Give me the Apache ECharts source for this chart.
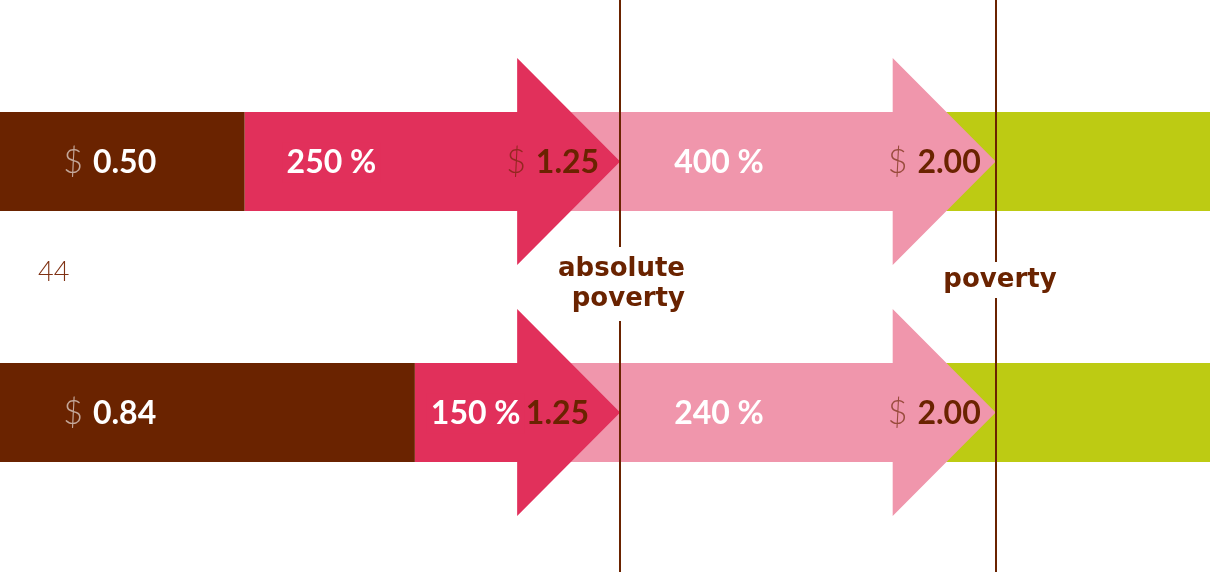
<!DOCTYPE html>
<html><head><meta charset="utf-8">
<script src="https://cdn.jsdelivr.net/npm/echarts@6/dist/echarts.min.js"></script>
<style>html,body{margin:0;padding:0;background:#fff}#c{width:1210px;height:572px}</style>
</head><body><div id="c"></div>
<script>
// ---- data ----
const rows = ['row 1', 'row 2'];
const startIncome = [0.50, 0.84];
const absolutePovertyLine = 1.25;
const povertyLine = 2.00;
const pctToAbsolute = [250, 150];
const pctToPoverty = [400, 240];
const thresholdValues = [1.25, 2.00];
const thresholdNames = ['absolute\npoverty', 'poverty'];
const xMin = 0.0115;
const xMax = 2.428;
const strayLabel = '44';

// ---- layout / style ----
const C = {brown:'#6a2300', crimson:'#e1305b', pink:'#f096ac', green:'#bdcb13', line:'#6a2300'};
const BAR_HALF = 49.5, HEAD_HALF = 103.5, HEAD_LEN = 103;
const NUM = "Lato, 'Open Sans', sans-serif";
const ANN = "'DejaVu Sans', sans-serif";
const startLabelDx = 69;
const pctAbsDx = [38, 12];
const absValueGap = [21, 31];
const povValueGap = 15;
const pctPovDx = 54;
const LABEL_DY = 1;
const thrLayout = [
  {align:'right', dx:65, cy:284, pad:[7,0]},
  {align:'center', dx:4, cy:280, pad:[3,0]}
];

function moneyText(v, dFill, nFill, x, y, align) {
  return {type:'text', style:{
    text:'{d|$}{v|' + v.toFixed(2) + '}', x:x, y:y + LABEL_DY, align:align, verticalAlign:'middle',
    rich:{
      d:{fontFamily:NUM, fontWeight:300, fontSize:34, fill:dFill, padding:[0,10,0,0]},
      v:{fontFamily:NUM, fontWeight:'bold', fontSize:32, fill:nFill}
    }}};
}
function pctText(p, x, y, bg) {
  return {type:'text', style:{
    text: p + ' %', x:x, y:y + LABEL_DY, align:'left', verticalAlign:'middle',
    fontFamily:NUM, fontWeight:'bold', fontSize:32, fill:'#fff',
    backgroundColor:bg || 'transparent', padding: bg ? [4,4,4,4] : 0
  }};
}
function arrow(xs, xt, y, fill) {
  const xh = xt - HEAD_LEN;
  return {type:'polygon', shape:{points:[
    [xs, y-BAR_HALF],[xh, y-BAR_HALF],[xh, y-HEAD_HALF],[xt, y],
    [xh, y+HEAD_HALF],[xh, y+BAR_HALF],[xs, y+BAR_HALF]]},
    style:{fill:fill}};
}

const chart = echarts.init(document.getElementById('c'));
chart.setOption({
  animation:false,
  grid:{left:0, right:0, top:36, bottom:34},
  xAxis:{type:'value', min:xMin, max:xMax, show:false},
  yAxis:{type:'category', data:rows, inverse:true, show:false},
  graphic:[{type:'text', left:38, top:259, style:{text:strayLabel, fontFamily:NUM, fontWeight:300, fontSize:27, fill:'#7f3113'}}],
  series:[
    {
      type:'custom', z:2,
      data: rows.map((r,i)=>[i, startIncome[i], pctToAbsolute[i], pctToPoverty[i]]),
      renderItem:function(params, api){
        const i = api.value(0);
        const s = api.value(1);
        const y = api.coord([0, i])[1];
        const x0 = api.coord([0, i])[0];
        const xs = api.coord([s, i])[0];
        const x1 = api.coord([absolutePovertyLine, i])[0];
        const x2 = api.coord([povertyLine, i])[0];
        const xe = api.coord([xMax, i])[0];
        return {type:'group', children:[
          {type:'rect', shape:{x:x2-HEAD_LEN, y:y-BAR_HALF, width:xe-(x2-HEAD_LEN), height:BAR_HALF*2}, style:{fill:C.green}},
          arrow(x1-HEAD_LEN, x2, y, C.pink),
          arrow(xs, x1, y, C.crimson),
          {type:'rect', shape:{x:x0, y:y-BAR_HALF, width:xs-x0, height:BAR_HALF*2}, style:{fill:C.brown}},
          moneyText(s, 'rgba(255,255,255,0.6)', '#fff', x0+startLabelDx, y, 'left'),
          moneyText(absolutePovertyLine, 'rgba(106,35,0,0.65)', C.brown, x1-absValueGap[i], y, 'right'),
          pctText(api.value(2), xs+pctAbsDx[i], y, C.crimson),
          moneyText(povertyLine, 'rgba(106,35,0,0.65)', C.brown, x2-povValueGap, y, 'right'),
          pctText(api.value(3), x1+pctPovDx, y)
        ]};
      }
    },
    {
      type:'custom', z:5,
      data: thresholdValues.map((v,i)=>[v, i]),
      renderItem:function(params, api){
        const i = api.value(1);
        const x = Math.round(api.coord([api.value(0), 0])[0]);
        const H = api.getHeight();
        const L = thrLayout[i];
        return {type:'group', children:[
          {type:'line', shape:{x1:x, y1:0, x2:x, y2:H}, style:{stroke:C.line, lineWidth:2}},
          {type:'text', style:{text:thresholdNames[i], x:x+L.dx, y:L.cy, align:L.align, verticalAlign:'middle',
            fontFamily:ANN, fontWeight:'bold', fontSize:26, lineHeight:30, fill:C.brown,
            backgroundColor:'#fff', padding:L.pad}}
        ]};
      }
    }
  ]
});
</script></body></html>
